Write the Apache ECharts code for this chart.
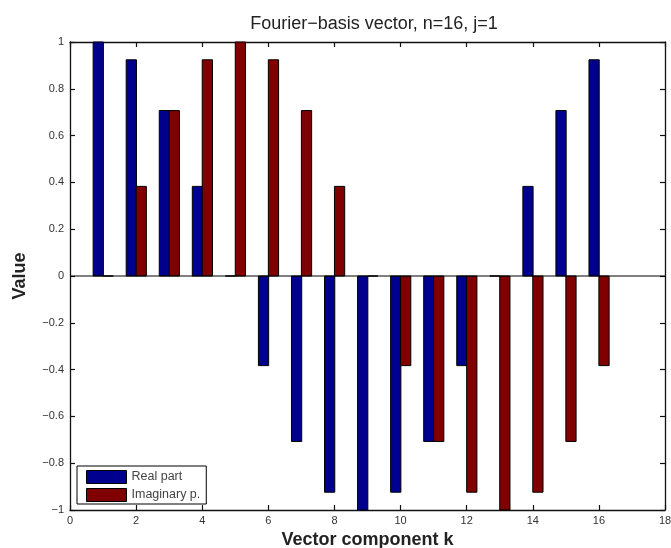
<!DOCTYPE html>
<html>
<head>
<meta charset="utf-8">
<script src="https://cdn.jsdelivr.net/npm/echarts@6/dist/echarts.min.js"></script>
<style>html,body{margin:0;padding:0;background:#fff;}#c{width:671px;height:548px;}</style>
</head>
<body>
<div id="c"></div>
<script>
var components = [1,2,3,4,5,6,7,8,9,10,11,12,13,14,15,16];
var realPart = [1, 0.924, 0.707, 0.383, 0, -0.383, -0.707, -0.924, -1, -0.924, -0.707, -0.383, 0, 0.383, 0.707, 0.924];
var imagPart = [0, 0.383, 0.707, 0.924, 1, 0.924, 0.707, 0.383, 0, -0.383, -0.707, -0.924, -1, -0.924, -0.707, -0.383];
var xTicks = [0,2,4,6,8,10,12,14,16,18];
var yTicks = [-1,-0.8,-0.6,-0.4,-0.2,0,0.2,0.4,0.6,0.8,1];

var FONT = '"Liberation Sans", Arial, Helvetica, sans-serif';
var BAR_W = 0.31;
function makeRender(offset, color) {
  return function (params, api) {
    var k = api.value(0), v = api.value(1);
    var p1 = api.coord([k + offset - BAR_W / 2, v]);
    var p2 = api.coord([k + offset + BAR_W / 2, 0]);
    var y = Math.min(p1[1], p2[1]);
    var h = Math.abs(p2[1] - p1[1]);
    return {type: 'rect', shape: {x: p1[0], y: y, width: p2[0] - p1[0], height: h},
      style: {fill: color, stroke: '#000', lineWidth: 1}};
  };
}
function pairs(vals) { return components.map(function (k, i) { return [k, vals[i]]; }); }
function fmtY(v) { var s = String(Math.round(v * 10) / 10); return s.replace('-', '\u2212'); }

var chart = echarts.init(document.getElementById('c'), null, {renderer: 'canvas'});
var axisCommon = {
  type: 'value',
  axisLine: {show: true, onZero: false, lineStyle: {color: '#111', width: 1.3}},
  axisTick: {show: true, inside: true, length: 5, lineStyle: {color: '#111', width: 1.2}},
  splitLine: {show: false}
};
chart.setOption({
  animation: false,
  title: {text: 'Fourier\u2212basis vector, n=16, j=1', left: 369, top: 10, textAlign: 'center',
    textStyle: {fontFamily: FONT, fontSize: 18, fontWeight: 'normal', color: '#222'}},
  grid: {left: 70, right: 6, top: 42, bottom: 38, containLabel: false, outerBoundsMode: 'none'},
  legend: {
    left: 77, top: 466, orient: 'vertical', itemWidth: 40, itemHeight: 13, itemGap: 4,
    padding: [4, 6, 2, 9], borderColor: '#000', borderWidth: 1, backgroundColor: '#fff',
    textStyle: {fontFamily: FONT, fontSize: 12.5, color: '#444'},
    data: [
      {name: 'Real part', icon: 'rect', itemStyle: {color: '#00008f', borderColor: '#000', borderWidth: 1}},
      {name: 'Imaginary p.', icon: 'rect', itemStyle: {color: '#800000', borderColor: '#000', borderWidth: 1}}
    ]
  },
  xAxis: [
    Object.assign({}, axisCommon, {position: 'bottom', min: xTicks[0], max: xTicks[xTicks.length - 1], interval: 2,
      axisLabel: {fontFamily: FONT, fontSize: 11, color: '#333', margin: 5},
      name: 'Vector component k', nameLocation: 'middle', nameGap: 19,
      nameTextStyle: {fontFamily: FONT, fontSize: 18, fontWeight: 'bold', color: '#222'}}),
    Object.assign({}, axisCommon, {position: 'top', min: xTicks[0], max: xTicks[xTicks.length - 1], interval: 2,
      axisLabel: {show: false}})
  ],
  yAxis: [
    Object.assign({}, axisCommon, {position: 'left', min: yTicks[0], max: yTicks[yTicks.length - 1], interval: 0.2,
      axisLabel: {fontFamily: FONT, fontSize: 11, color: '#333', margin: 6, formatter: fmtY},
      name: 'Value', nameLocation: 'middle', nameGap: 41, nameRotate: 90,
      nameTextStyle: {fontFamily: FONT, fontSize: 18, fontWeight: 'bold', color: '#222'}}),
    Object.assign({}, axisCommon, {position: 'right', min: yTicks[0], max: yTicks[yTicks.length - 1], interval: 0.2,
      axisLabel: {show: false}})
  ],
  series: [
    {name: 'Real part', type: 'custom', renderItem: makeRender(-0.145, '#00008f'), data: pairs(realPart),
      itemStyle: {color: '#00008f'}, encode: {x: 0, y: 1}, z: 3},
    {name: 'Imaginary p.', type: 'custom', renderItem: makeRender(0.155, '#800000'), data: pairs(imagPart),
      itemStyle: {color: '#800000'}, encode: {x: 0, y: 1}, z: 3},
    {name: 'baseline', type: 'line', data: [[xTicks[0], 0], [xTicks[xTicks.length - 1], 0]], symbol: 'none',
      lineStyle: {color: '#000', width: 1}, silent: true, z: 4}
  ]
});
</script>
</body>
</html>
